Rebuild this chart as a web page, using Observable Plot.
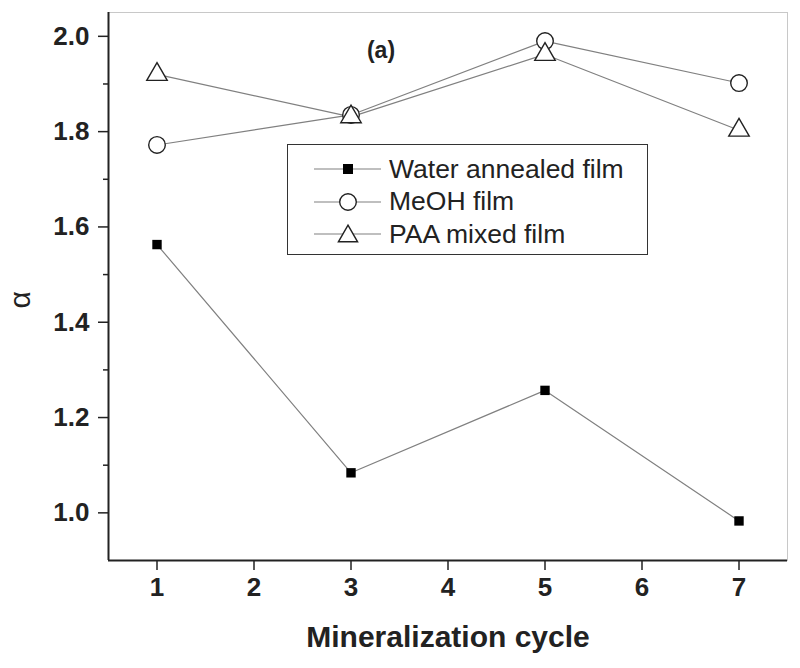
<!DOCTYPE html>
<html>
<head>
<meta charset="utf-8">
<script src="https://cdn.jsdelivr.net/npm/d3@7"></script>
<script src="https://cdn.jsdelivr.net/npm/@observablehq/plot@0.6"></script>
<style>
  html, body { margin: 0; padding: 0; background: #fff; }
  #wrap { position: relative; width: 800px; height: 668px; font-family: "Liberation Sans", Arial, sans-serif; }
  #legend { position: absolute; left: 287px; top: 144px; width: 359px; height: 109px; border: 1.5px solid #333; background: #fff; box-sizing: content-box; }
  .row { position: absolute; left: 0; height: 32px; display: flex; align-items: center; }
  .row span { font-size: 26.5px; color: #222; margin-left: 7px; white-space: nowrap; }
</style>
</head>
<body>
<div id="wrap"></div>
<script>
const cycles = [1, 3, 5, 7];
const waterAnnealed = [1.563, 1.084, 1.257, 0.983];
const meohFilm = [1.772, 1.835, 1.990, 1.902];
const paaMixed = [1.920, 1.831, 1.962, 1.803];
const seriesNames = ["Water annealed film", "MeOH film", "PAA mixed film"];
const xTicks = [1, 2, 3, 4, 5, 6, 7];
const yTicks = [1.0, 1.2, 1.4, 1.6, 1.8, 2.0];
const yMinorTicks = [1.1, 1.3, 1.5, 1.7, 1.9];
const xDomain = [0.5, 7.5];
const yDomain = [0.9, 2.05];

const rows = [];
[waterAnnealed, meohFilm, paaMixed].forEach((vals, i) => {
  cycles.forEach((c, j) => rows.push({series: seriesNames[i], cycle: c, alpha: vals[j]}));
});
const water = rows.filter(d => d.series === seriesNames[0]);
const meoh = rows.filter(d => d.series === seriesNames[1]);
const paa = rows.filter(d => d.series === seriesNames[2]);

const lineColor = "#808080";
const blank = () => "";

const chart = Plot.plot({
  width: 800,
  height: 668,
  marginLeft: 108,
  marginRight: 13,
  marginTop: 12,
  marginBottom: 108,
  style: {fontFamily: "'Liberation Sans', Arial, sans-serif", background: "#fff"},
  x: {domain: xDomain},
  y: {domain: yDomain},
  marks: [
    Plot.frame({stroke: "#c8c8c8", strokeWidth: 1}),
    Plot.ruleX([xDomain[0]], {stroke: "#222", strokeWidth: 2}),
    Plot.ruleY([yDomain[0]], {stroke: "#222", strokeWidth: 2}),
    Plot.axisY({ticks: yTicks, tickSize: 10, tickFormat: blank, stroke: "#222", strokeWidth: 1.5, label: null}),
    Plot.axisY({ticks: yMinorTicks, tickSize: 5, tickFormat: blank, stroke: "#222", strokeWidth: 1.5, label: null}),
    Plot.axisX({ticks: xTicks, tickSize: 10, tickFormat: blank, stroke: "#222", strokeWidth: 1.5, label: null}),
    Plot.text(yTicks, {y: d => d, text: d3.format(".1f"), frameAnchor: "left", textAnchor: "end", dx: -19, fontSize: 26, fontWeight: "bold", fill: "#222"}),
    Plot.text(xTicks, {x: d => d, text: d3.format("d"), frameAnchor: "bottom", dy: 35, fontSize: 26, fontWeight: "bold", fill: "#222"}),
    Plot.text(["Mineralization cycle"], {frameAnchor: "bottom", dy: 86, fontSize: 30, fontWeight: "bold", fill: "#222"}),
    Plot.text(["α"], {frameAnchor: "left", dx: -88, dy: 22, rotate: -90, fontSize: 30, fill: "#222"}),
    Plot.text(["(a)"], {frameAnchor: "top", dx: -67, dy: 29, fontSize: 23, fontWeight: "bold", fill: "#222"}),
    Plot.line(water, {x: "cycle", y: "alpha", stroke: lineColor, strokeWidth: 1.2}),
    Plot.line(meoh, {x: "cycle", y: "alpha", stroke: lineColor, strokeWidth: 1.2}),
    Plot.line(paa, {x: "cycle", y: "alpha", stroke: lineColor, strokeWidth: 1.2}),
    Plot.dot(water, {x: "cycle", y: "alpha", symbol: "square", r: 5.3, fill: "#000", stroke: "none"}),
    Plot.dot(meoh, {x: "cycle", y: "alpha", symbol: "circle", r: 8.3, fill: "#fff", stroke: "#222", strokeWidth: 1.4}),
    Plot.dot(paa, {x: "cycle", y: "alpha", symbol: "triangle", r: 7.6, fill: "#fff", stroke: "#222", strokeWidth: 1.4})
  ]
});

const wrap = document.getElementById("wrap");
wrap.appendChild(chart);

// Legend (HTML overlay)
const legend = document.createElement("div");
legend.id = "legend";
const sym = [
  '<rect x="55" y="11" width="10" height="10" fill="#000"/>',
  '<circle cx="60" cy="16" r="8.3" fill="#fff" stroke="#222" stroke-width="1.4"/>',
  '<path d="M60,7.2 L69.6,23.8 L50.4,23.8 Z" fill="#fff" stroke="#222" stroke-width="1.4"/>'
];
seriesNames.forEach((name, i) => {
  const row = document.createElement("div");
  row.className = "row";
  row.style.top = (8 + i * 32.5) + "px";
  row.innerHTML = `<svg width="94" height="32" style="display:block"><line x1="26" y1="16" x2="93" y2="16" stroke="${lineColor}" stroke-width="1.2"/>${sym[i]}</svg><span>${name}</span>`;
  legend.appendChild(row);
});
wrap.appendChild(legend);
</script>
</body>
</html>
